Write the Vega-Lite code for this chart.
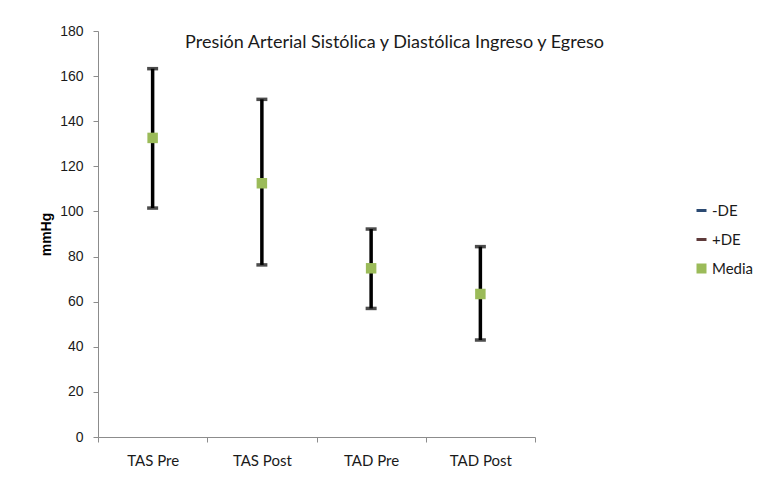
{
  "$schema": "https://vega.github.io/schema/vega-lite/v6.json",
  "autosize": {"type": "none"},
  "width": 437,
  "height": 406,
  "padding": {"left": 98, "top": 31, "right": 240, "bottom": 50},
  "background": "white",
  "title": {
    "text": "Presión Arterial Sistólica y Diastólica Ingreso y Egreso",
    "font": "Lato",
    "fontSize": 18,
    "fontWeight": "normal",
    "color": "#1a1a1a",
    "anchor": "middle",
    "frame": "group",
    "dx": 78,
    "dy": 32
  },
  "data": {
    "values": [
      {"grupo": "TAS Pre", "media": 132.6, "menos": 101.5, "mas": 163.3},
      {"grupo": "TAS Post", "media": 112.5, "menos": 76.3, "mas": 149.7},
      {"grupo": "TAD Pre", "media": 74.8, "menos": 57.0, "mas": 92.2},
      {"grupo": "TAD Post", "media": 63.4, "menos": 43.0, "mas": 84.4}
    ]
  },
  "encoding": {
    "x": {
      "field": "grupo",
      "type": "nominal",
      "sort": null,
      "title": null,
      "scale": {"paddingInner": 0, "paddingOuter": 0},
      "axis": {
        "labelAngle": 0,
        "tickBand": "extent",
        "domainColor": "#8c8c8c",
        "tickColor": "#8c8c8c",
        "tickSize": 5,
        "labelFont": "Lato",
        "labelFontSize": 15,
        "labelColor": "#1a1a1a",
        "labelPadding": 11
      }
    }
  },
  "layer": [
    {
      "mark": {"type": "rule", "color": "black", "strokeWidth": 3.5},
      "encoding": {
        "y": {
          "field": "menos",
          "type": "quantitative",
          "scale": {"domain": [0, 180]},
          "title": "mmHg",
          "axis": {
            "values": [0, 20, 40, 60, 80, 100, 120, 140, 160, 180],
            "grid": false,
            "domainColor": "#8c8c8c",
            "tickColor": "#8c8c8c",
            "tickSize": 5,
            "labelFont": "Liberation Sans",
            "labelFontSize": 14,
            "labelColor": "#1a1a1a",
            "labelPadding": 10,
            "titleFont": "Liberation Sans",
            "titleFontSize": 14,
            "titleFontWeight": "bold",
            "titleColor": "#000000",
            "titlePadding": 6
          }
        },
        "y2": {"field": "mas"}
      }
    },
    {
      "mark": {"type": "tick", "color": "black", "thickness": 3.5, "size": 11},
      "encoding": {"y": {"field": "menos", "type": "quantitative"}}
    },
    {
      "mark": {"type": "tick", "color": "black", "thickness": 3.5, "size": 11},
      "encoding": {"y": {"field": "mas", "type": "quantitative"}}
    },
    {
      "mark": {"type": "point", "filled": true, "opacity": 1, "size": 110},
      "encoding": {
        "y": {"field": "media", "type": "quantitative"},
        "color": {
          "datum": "Media",
          "type": "nominal",
          "scale": {"domain": ["-DE", "+DE", "Media"], "range": ["#2b4a72", "#5e3a3a", "#9bbb59"]},
          "legend": {
            "title": null,
            "orient": "none",
            "legendX": 596,
            "legendY": 172,
            "rowPadding": 13,
            "symbolSize": 100,
            "labelFont": "Lato",
            "labelFontSize": 15,
            "labelColor": "#1a1a1a",
            "labelOffset": 3
          }
        },
        "shape": {
          "datum": "Media",
          "type": "nominal",
          "scale": {"domain": ["-DE", "+DE", "Media"], "range": ["M-1,-0.3H1V0.3H-1Z", "M-1,-0.3H1V0.3H-1Z", "square"]}
        }
      }
    }
  ],
  "config": {"view": {"stroke": null}}
}
